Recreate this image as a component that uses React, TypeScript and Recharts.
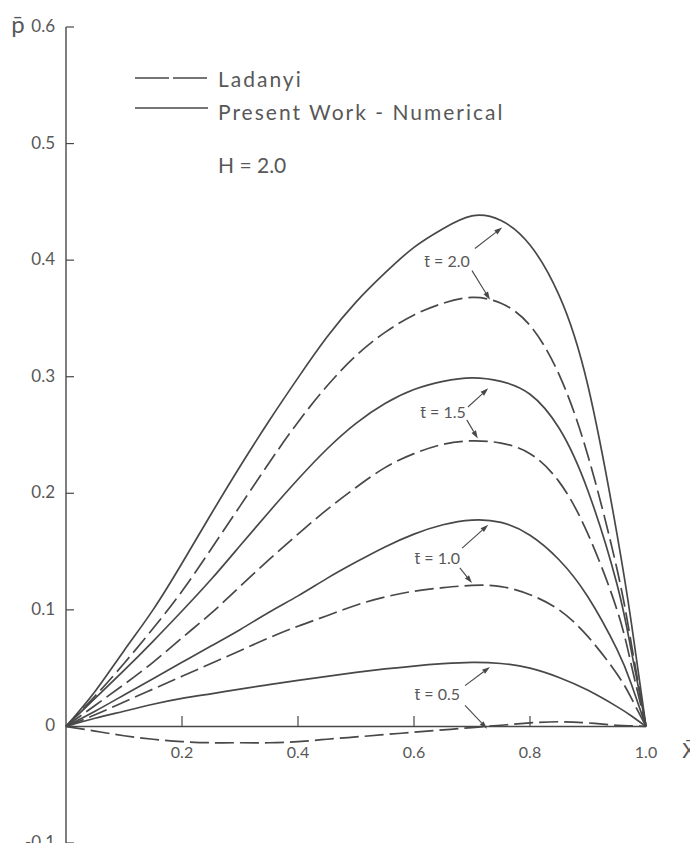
import React from 'react';
import { LineChart, Line, XAxis, YAxis, ReferenceLine, ReferenceDot } from 'recharts';

// x positions along the beam (x bar)
const X_VALUES = [0, 0.05, 0.1, 0.15, 0.2, 0.25, 0.3, 0.35, 0.4, 0.45, 0.5, 0.55, 0.6, 0.65, 0.7, 0.75, 0.8, 0.85, 0.9, 0.95, 0.975, 1.0];

// Present work - numerical (solid)
const NUM_T20 = [0, 0.03, 0.065, 0.1, 0.14, 0.182, 0.223, 0.262, 0.299, 0.334, 0.364, 0.389, 0.411, 0.427, 0.438, 0.434, 0.413, 0.37, 0.292, 0.165, 0.088, 0];
const NUM_T15 = [0, 0.024, 0.048, 0.073, 0.099, 0.126, 0.155, 0.184, 0.212, 0.238, 0.26, 0.277, 0.289, 0.296, 0.299, 0.296, 0.285, 0.256, 0.202, 0.122, 0.064, 0];
const NUM_T10 = [0, 0.013, 0.027, 0.041, 0.055, 0.069, 0.083, 0.098, 0.112, 0.127, 0.141, 0.154, 0.165, 0.173, 0.177, 0.175, 0.164, 0.143, 0.111, 0.066, 0.036, 0];
const NUM_T05 = [0, 0.007, 0.013, 0.019, 0.024, 0.028, 0.032, 0.0358, 0.0395, 0.043, 0.0463, 0.0493, 0.0518, 0.0538, 0.055, 0.054, 0.05, 0.042, 0.031, 0.017, 0.009, 0];

// Ladanyi (dashed)
const LAD_T20 = [0, 0.026, 0.054, 0.084, 0.116, 0.152, 0.189, 0.226, 0.261, 0.292, 0.318, 0.338, 0.353, 0.363, 0.368, 0.363, 0.344, 0.302, 0.232, 0.135, 0.07, 0];
const LAD_T15 = [0, 0.018, 0.036, 0.055, 0.076, 0.097, 0.12, 0.143, 0.165, 0.186, 0.205, 0.222, 0.234, 0.242, 0.245, 0.243, 0.234, 0.21, 0.165, 0.1, 0.052, 0];
const LAD_T10 = [0, 0.01, 0.021, 0.032, 0.043, 0.054, 0.065, 0.076, 0.086, 0.095, 0.104, 0.111, 0.116, 0.119, 0.121, 0.12, 0.113, 0.1, 0.077, 0.045, 0.024, 0];
const LAD_T05 = [0, -0.004, -0.008, -0.011, -0.013, -0.014, -0.014, -0.014, -0.013, -0.011, -0.009, -0.007, -0.005, -0.003, -0.001, 0.001, 0.003, 0.004, 0.003, 0.001, 0.0005, 0];

const Y_TICKS = [-0.1, 0, 0.1, 0.2, 0.3, 0.4, 0.5, 0.6];
const X_TICKS = [0.2, 0.4, 0.6, 0.8];
const X_LABELS = [0.2, 0.4, 0.6, 0.8, 1.0];

// t labels and where their arrows point
const T_LABELS = ['t\u0304 = 2.0', 't\u0304 = 1.5', 't\u0304 = 1.0', 't\u0304 = 0.5'];
const LABEL_AT = [
  { x: 0.657, y: 0.398 },
  { x: 0.65, y: 0.269 },
  { x: 0.64, y: 0.144 },
  { x: 0.64, y: 0.027 },
];
const ARROWS = [
  [{ x: 0.705, y: 0.41 }, { x: 0.752, y: 0.428 }],
  [{ x: 0.7, y: 0.391 }, { x: 0.731, y: 0.366 }],
  [{ x: 0.693, y: 0.274 }, { x: 0.728, y: 0.29 }],
  [{ x: 0.691, y: 0.263 }, { x: 0.71, y: 0.247 }],
  [{ x: 0.683, y: 0.153 }, { x: 0.728, y: 0.173 }],
  [{ x: 0.679, y: 0.136 }, { x: 0.7, y: 0.123 }],
  [{ x: 0.688, y: 0.035 }, { x: 0.731, y: 0.051 }],
  [{ x: 0.688, y: 0.018 }, { x: 0.726, y: -0.002 }],
];

const rows = X_VALUES.map((x, i) => ({
  x,
  n20: NUM_T20[i], n15: NUM_T15[i], n10: NUM_T10[i], n05: NUM_T05[i],
  l20: LAD_T20[i], l15: LAD_T15[i], l10: LAD_T10[i], l05: LAD_T05[i],
}));

const INK = '#484848';
const TEXT = '#585858';
const FONT = 'Lato, "Open Sans", sans-serif';
const DASH = '19 6';

const YTick = (props: any) => {
  const { x, y, payload } = props;
  const v = payload.value;
  const label = v === 0 ? '0' : v.toFixed(1);
  return (
    <g>
      <line x1={x} y1={y} x2={x + 8} y2={y} stroke={INK} strokeWidth={1.2} />
      <text x={x - 11} y={y + 5} textAnchor="end" fontSize={17} fill={TEXT} fontFamily={FONT}>{label}</text>
    </g>
  );
};

const textAt = (value: string, dx: number, dy: number, size: number, anchor = 'middle') => (props: any) => {
  const vb = props.viewBox || {};
  const cx = (vb.x || 0) + (vb.width || 0) / 2;
  const cy = (vb.y || 0) + (vb.height || 0) / 2;
  return (
    <text x={cx + dx} y={cy + dy} textAnchor={anchor} fontSize={size} fill={TEXT} fontFamily={FONT}>{value}</text>
  );
};

const Arrow = (props: any) => {
  const { x1, y1, x2, y2 } = props;
  const a = Math.atan2(y2 - y1, x2 - x1);
  const len = 8, w = 2.6;
  const bx = x2 - len * Math.cos(a);
  const by = y2 - len * Math.sin(a);
  const pts = `${x2},${y2} ${bx + w * Math.sin(a)},${by - w * Math.cos(a)} ${bx - w * Math.sin(a)},${by + w * Math.cos(a)}`;
  return (
    <g>
      <line x1={x1} y1={y1} x2={bx} y2={by} stroke={INK} strokeWidth={1.1} />
      <polygon points={pts} fill={INK} />
    </g>
  );
};

const Legend = () => (
  <svg width={600} height={190} style={{ position: 'absolute', left: 0, top: 0, pointerEvents: 'none' }}>
    <line x1={135} y1={78} x2={208} y2={78} stroke={INK} strokeWidth={1.6} strokeDasharray="34 4" />
    <text x={218} y={87} fontSize={21} letterSpacing={2} fill={TEXT} fontFamily={FONT}>Ladanyi</text>
    <line x1={135} y1={108} x2={208} y2={108} stroke={INK} strokeWidth={1.6} />
    <text x={218} y={120} fontSize={21} letterSpacing={2} fill={TEXT} fontFamily={FONT}>Present  Work - Numerical</text>
    <text x={218} y={173} fontSize={21} fill={TEXT} fontFamily={FONT}>H = 2.0</text>
  </svg>
);

export default function App() {
  const line = (key: string, dashed: boolean) => (
    <Line
      key={key}
      type="natural"
      dataKey={key}
      stroke={INK}
      strokeWidth={1.7}
      strokeDasharray={dashed ? DASH : undefined}
      dot={false}
      activeDot={false}
      isAnimationActive={false}
    />
  );

  return (
    <div style={{ position: 'relative', margin: -8, width: 698, height: 851, background: '#fff' }}>
      <LineChart width={698} height={851} data={rows} margin={{ top: 27, right: 52, bottom: 8, left: 16 }}>
        <XAxis type="number" dataKey="x" domain={[0, 1]} hide />
        <YAxis
          type="number"
          domain={[-0.1, 0.6]}
          ticks={Y_TICKS}
          interval={0}
          width={50}
          axisLine={{ stroke: INK, strokeWidth: 1.4 }}
          tickLine={false}
          tickSize={0}
          tickMargin={0}
          tick={<YTick />}
        />
        <ReferenceLine y={0} stroke={INK} strokeWidth={1.4} />
        {X_TICKS.map((t) => (
          <ReferenceLine key={`xt${t}`} segment={[{ x: t, y: 0 }, { x: t, y: 0.009 }]} stroke={INK} strokeWidth={1.2} />
        ))}
        {X_LABELS.map((t) => (
          <ReferenceDot key={`xl${t}`} x={t} y={0} r={0} fill="none" stroke="none" label={textAt(t.toFixed(1), 0, 32, 16)} />
        ))}
        <ReferenceDot x={1} y={0} r={0} fill="none" stroke="none" label={textAt('X\u0304', 43, 32, 21)} />
        <ReferenceDot x={0} y={0.6} r={0} fill="none" stroke="none" label={textAt('p\u0304', -48, 6, 24)} />

        {line('n20', false)}
        {line('l20', true)}
        {line('n15', false)}
        {line('l15', true)}
        {line('n10', false)}
        {line('l10', true)}
        {line('n05', false)}
        {line('l05', true)}

        {ARROWS.map((seg, i) => (
          <ReferenceLine key={`ar${i}`} segment={seg} shape={Arrow} ifOverflow="visible" />
        ))}
        {T_LABELS.map((t, i) => (
          <ReferenceDot key={`tl${i}`} x={LABEL_AT[i].x} y={LABEL_AT[i].y} r={0} fill="none" stroke="none" label={textAt(t, 0, 5, 16)} />
        ))}
      </LineChart>
      <Legend />
    </div>
  );
}
